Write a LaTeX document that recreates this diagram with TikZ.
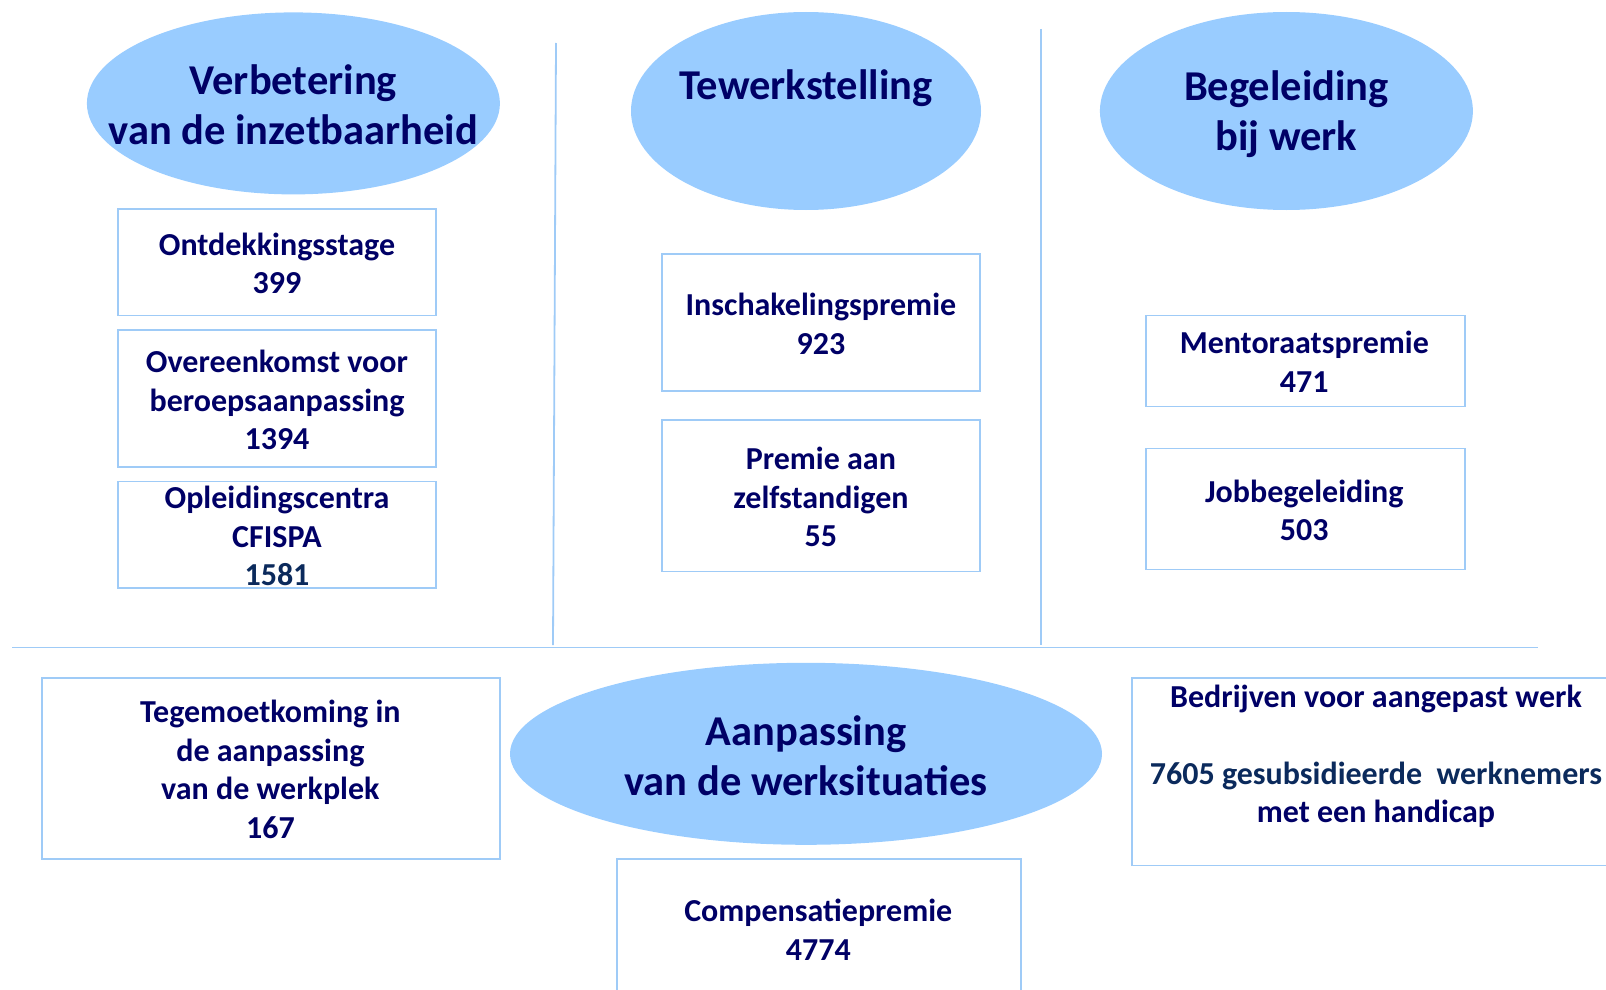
\documentclass[tikz,border=0pt]{standalone}
\usepackage{fontspec}
\setmainfont{Carlito}
\usetikzlibrary{shapes.geometric}
\definecolor{ellfill}{HTML}{99CCFF}
\definecolor{boxline}{HTML}{9FCBF7}
\definecolor{navytext}{HTML}{000066}
\definecolor{navytwo}{HTML}{0B2A5C}
\begin{document}
\begin{tikzpicture}[x=1pt,y=-1pt,
  ell/.style={ellipse,fill=ellfill,draw=none,inner sep=0pt},
  title/.style={text=navytext,font=\fontsize{42.5}{50}\selectfont\bfseries,align=center,inner sep=0pt},
  infobox/.style={draw=boxline,line width=1.8pt,rectangle,inner sep=0pt},
  infotext/.style={text=navytext,font=\fontsize{32}{38.5}\selectfont\bfseries,align=center,inner sep=0pt},
  sepline/.style={draw=boxline,line width=1.8pt}]
\useasboundingbox (0,0) rectangle (1606,990);

% separator lines
\coordinate (v1t) at (556,43);
\coordinate (v1b) at (553,645);
\coordinate (v2t) at (1040.6,29);
\coordinate (v2b) at (1040.6,645);
\coordinate (hl) at (12,647.5);
\coordinate (hr) at (1538,647.5);
\draw[sepline] (v1t) -- (v1b);
\draw[sepline] (v2t) -- (v2b);
\draw[sepline] (hl) -- (hr);

% ellipses
\node[ell,minimum width=413pt,minimum height=182pt] (e1) at (293.4,103.4) {};
\node[ell,minimum width=350pt,minimum height=198pt] (e2) at (806,111) {};
\node[ell,minimum width=373pt,minimum height=198pt] (e3) at (1286.4,111) {};
\node[ell,minimum width=592pt,minimum height=182pt] (e4) at (806,753.8) {};

\node[title] (t1) at (293.4,105) {Verbetering\\van de inzetbaarheid};
\node[title] (t2) at (806,88) {Tewerkstelling};
\node[title] (t3) at (1286.4,114) {Begeleiding\\bij werk};
\node[title] (t4) at (806,755.5) {Aanpassing\\van de werksituaties};

% boxes
\node[infobox,minimum width=318.5pt,minimum height=106.6pt] (b1) at (277,262.2) {};
\node[infobox,minimum width=318.5pt,minimum height=137.2pt] (b2) at (277,398.4) {};
\node[infobox,minimum width=318.5pt,minimum height=106.5pt] (b3) at (277,534.7) {};
\node[infobox,minimum width=318.6pt,minimum height=137.2pt] (b4) at (820.9,322.6) {};
\node[infobox,minimum width=318.6pt,minimum height=151.6pt] (b5) at (820.9,495.7) {};
\node[infobox,minimum width=318.6pt,minimum height=91.1pt] (b6) at (1305.3,361) {};
\node[infobox,minimum width=318.6pt,minimum height=120.9pt] (b7) at (1305.3,509) {};
\node[infobox,minimum width=457.8pt,minimum height=181.3pt] (b8) at (270.9,768.6) {};
\node[infobox,minimum width=483.3pt,minimum height=187.5pt] (b9) at (1373.4,771.8) {};
\node[infobox,minimum width=404.5pt,minimum height=140.7pt] (b10) at (818.9,929.7) {};

\node[infotext] (x1) at ([yshift=-1pt]b1.center) {Ontdekkingsstage\\399};
\node[infotext] (x2) at ([yshift=-1.5pt]b2.center) {Overeenkomst voor\\beroepsaanpassing\\1394};
\node[infotext] (x3) at ([yshift=-1.5pt]b3.center) {Opleidingscentra\\CFISPA\\\textcolor{navytwo}{1581}};
\node[infotext] (x4) at ([yshift=-1.5pt]b4.center) {Inschakelingspremie\\923};
\node[infotext] (x5) at ([yshift=-1.5pt]b5.center) {Premie aan\\zelfstandigen\\55};
\node[infotext] (x6) at ([xshift=-1pt,yshift=-1pt]b6.center) {Mentoraatspremie\\471};
\node[infotext] (x7) at ([xshift=-1pt,yshift=-1.5pt]b7.center) {Jobbegeleiding\\503};
\node[infotext] (x8) at ([xshift=-0.5pt,yshift=-1pt]b8.center) {Tegemoetkoming in\\de aanpassing\\van de werkplek\\167};
\node[infotext] (x9) at (1376,756.5) {Bedrijven voor aangepast werk\\[38.5pt]\textcolor{navytwo}{7605 gesubsidieerde\ \ werknemers}\\met een handicap};
\node[infotext] (x10) at (818.3,929.5) {Compensatiepremie\\4774};
\end{tikzpicture}
\end{document}
